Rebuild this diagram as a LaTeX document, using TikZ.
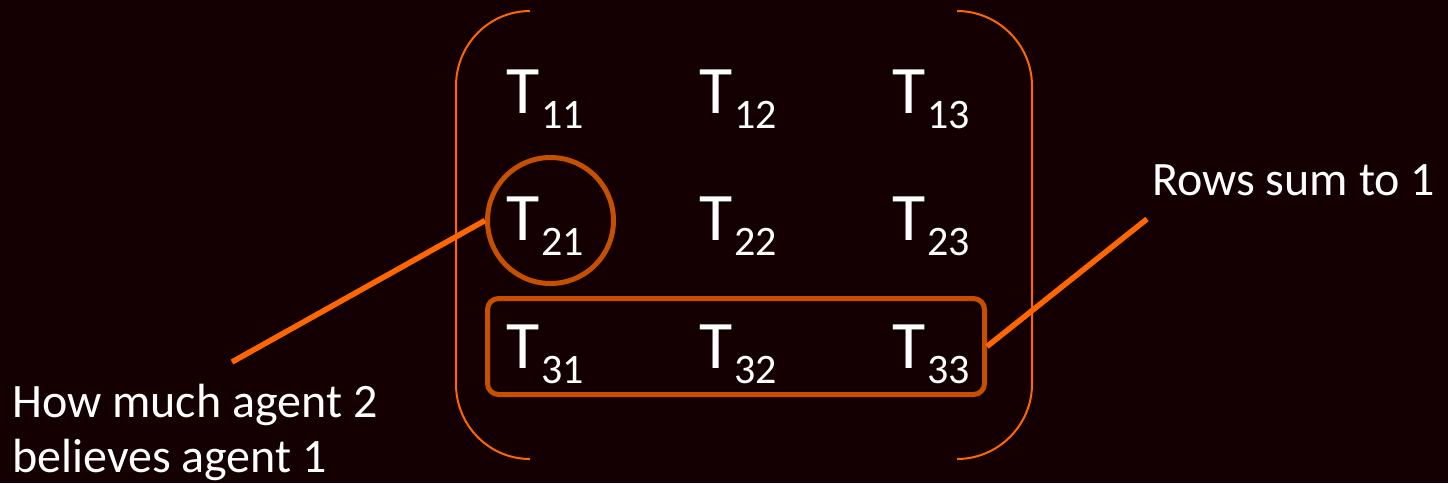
\documentclass[tikz,border=0pt]{standalone}
\usepackage{fontspec}
\setmainfont{Carlito}
\definecolor{bg}{RGB}{20,0,2}
\definecolor{brk}{RGB}{255,102,0}
\definecolor{hilite}{RGB}{197,80,0}
% matrix entry T_{ij}
\newcommand{\tent}[1]{{\fontsize{68}{80}\selectfont T}\kern2pt{\fontsize{42}{48}\selectfont\raisebox{-15pt}{#1}}}
\tikzset{
  entry/.style={anchor=base west, inner sep=0pt, text=white},
  label/.style={anchor=base west, inner sep=0pt, text=white, font=\fontsize{48}{55}\selectfont},
  bracket/.style={draw=brk, line width=2pt},
  hl/.style={draw=hilite, line width=5pt},
  pointer/.style={draw=brk, line width=5.5pt}
}
\begin{document}
\begin{tikzpicture}[x=1pt,y=-1pt]
  \fill[bg] (0,0) rectangle (1448,483);
  \useasboundingbox (0,0) rectangle (1448,483);

  % matrix brackets
  \draw[bracket] (530,11) .. controls (489,11) and (456,44.6) .. (456,86)
    -- (456,384) .. controls (456,425.4) and (489,459) .. (530,459);
  \draw[bracket] (957,11) .. controls (998,11) and (1032,44.6) .. (1032,86)
    -- (1032,384) .. controls (1032,425.4) and (998,459) .. (957,459);

  % entries
  \node[entry] (e11) at (506,113) {\tent{11}};
  \node[entry] (e12) at (699,113) {\tent{12}};
  \node[entry] (e13) at (892,113) {\tent{13}};
  \node[entry] (e21) at (506,240) {\tent{21}};
  \node[entry] (e22) at (699,240) {\tent{22}};
  \node[entry] (e23) at (892,240) {\tent{23}};
  \node[entry] (e31) at (506,368) {\tent{31}};
  \node[entry] (e32) at (699,368) {\tent{32}};
  \node[entry] (e33) at (892,368) {\tent{33}};

  % highlights
  \node[hl, circle, minimum size=126pt, inner sep=0pt] (circ) at (550.5,220.5) {};
  \node[hl, rectangle, rounded corners=11pt, minimum width=497pt, minimum height=96pt, inner sep=0pt] (row3) at (736,346.5) {};

  % annotations
  \node[label] (lblA1) at (12,417) {How much agent 2};
  \node[label] (lblA2) at (12,472) {believes agent 1};
  \node[label] (lblB) at (1152,195) {Rows sum to 1};

  \coordinate (pa) at (232,362);
  \coordinate (pb) at (1147,219);
  \draw[pointer] (pa) -- (circ.west);
  \draw[pointer] (row3.east) -- (pb);
\end{tikzpicture}
\end{document}
